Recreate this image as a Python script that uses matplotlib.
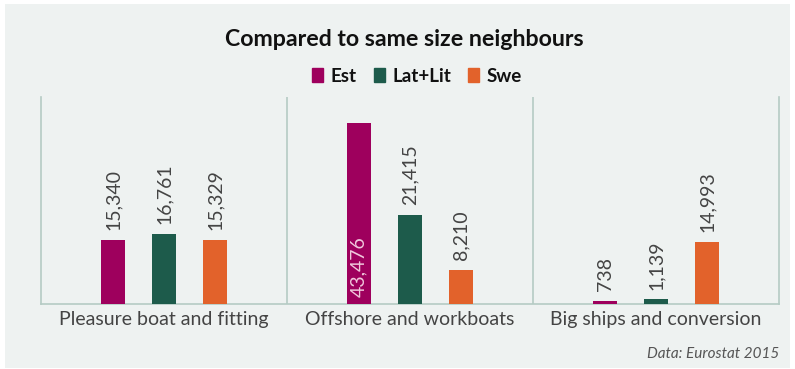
import matplotlib
matplotlib.use("Agg")
import matplotlib.pyplot as plt
from matplotlib.patches import Rectangle
import numpy as np

categories = ["Pleasure boat and fitting", "Offshore and workboats", "Big ships and conversion"]
series = ["Est", "Lat+Lit", "Swe"]
est = [15340, 43476, 738]
latlit = [16761, 21415, 1139]
swe = [15329, 8210, 14993]
colors = ["#9e005d", "#1d5b4b", "#e2622b"]

W, H = 795, 369
fig = plt.figure(figsize=(W/100, H/100), dpi=100)
fig.patch.set_facecolor("white")
fig.patches.append(Rectangle((5/W, 1-368/H), 785/W, 364/H, transform=fig.transFigure,
                             facecolor="#eef2f1", edgecolor="none", zorder=-10))

ax = fig.add_axes([41/W, 1-304/H, 738/W, 207/H])
ax.set_facecolor("none")
ax.set_xlim(0, 3)
ax.set_ylim(0, 49700)

spine_c = "#b5cbc4"
for s in ["left", "right", "bottom"]:
    ax.spines[s].set_color(spine_c)
    ax.spines[s].set_linewidth(1.2)
ax.spines["top"].set_visible(False)
for xv in [1, 2]:
    ax.axvline(xv, color=spine_c, lw=1.2)

x = np.arange(3) + 0.5
off = 0.207
bw = 0.098
font = "Lato"
txt_c = "#444444"
for i, (vals, c) in enumerate(zip([est, latlit, swe], colors)):
    xs = x + (i - 1) * off
    ax.bar(xs, vals, width=bw, color=c, zorder=3)
    for xx, v in zip(xs, vals):
        lbl = f"{v:,}"
        if v > 40000:
            ax.annotate(lbl, (xx, 0), xytext=(0, 5), textcoords="offset points",
                        rotation=90, ha="center", va="bottom", fontsize=14,
                        color="#f0c8dc", family=font, zorder=4)
        else:
            ax.annotate(lbl, (xx, v), xytext=(0, 7), textcoords="offset points",
                        rotation=90, ha="center", va="bottom", fontsize=14,
                        color=txt_c, family=font, zorder=4)

ax.set_xticks(x)
ax.set_xticklabels(categories, fontsize=14, color=txt_c, family=font)
ax.tick_params(axis="x", length=0, pad=5)
ax.set_yticks([])

fig.text(404/W, 1-40/H, "Compared to same size neighbours", ha="center", va="center",
         fontsize=16.7, fontweight="bold", family=font, color="#111111")

handles = [Rectangle((0, 0), 1, 1, color=c) for c in colors]
leg = fig.legend(handles, series, loc="center", bbox_to_anchor=(417/W, 1-76/H), ncol=3,
                 frameon=False, handlelength=0.6, handleheight=0.75, handletextpad=0.4,
                 columnspacing=0.9, prop={"family": font, "size": 13.5, "weight": "bold"})
for t in leg.get_texts():
    t.set_color("#111111")

fig.text(779/W, 1-354/H, "Data: Eurostat 2015", ha="right", va="center", fontsize=11,
         style="italic", color="#555555", family=font)

fig.savefig("out.png", dpi=100)
